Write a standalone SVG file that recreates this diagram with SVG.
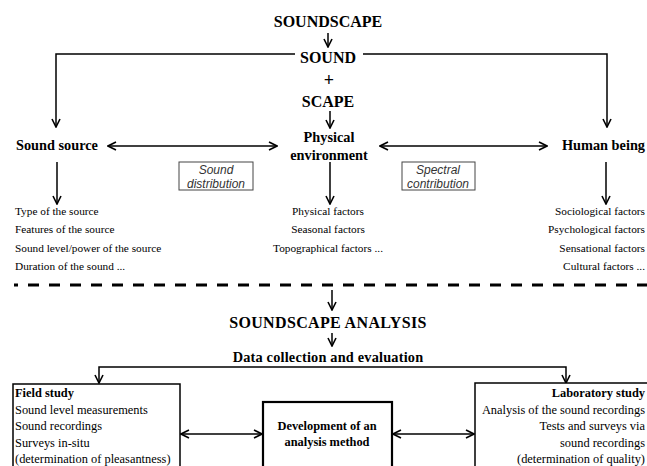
<svg xmlns="http://www.w3.org/2000/svg" width="647" height="466" viewBox="0 0 647 466">
<style>
.t{font-family:'Liberation Serif','DejaVu Serif',serif;fill:#000}
.b{font-weight:bold}
.h{font-size:16px;font-weight:bold}
.n{font-size:14.3px;font-weight:bold}
.s{font-size:11.3px}
.m{font-size:12.4px}
.i{font-family:'Liberation Sans',Arial,sans-serif;font-style:italic;font-size:12px;fill:#333}
.ln{fill:none;stroke:#000;stroke-width:1.5}
.bx{fill:#fff;stroke:#000;stroke-width:1.5}
.bx2{fill:#fff;stroke:#000;stroke-width:2.2}
.lb{fill:#fff;stroke:#444;stroke-width:1}
</style>
<defs>
<marker id="ah" viewBox="0 0 10 10" refX="9" refY="5" markerWidth="10" markerHeight="10" markerUnits="userSpaceOnUse" orient="auto-start-reverse">
<path d="M1,1 L9,5 L1,9" fill="none" stroke="#000" stroke-width="1.6"/>
</marker>
</defs>
<rect width="647" height="466" fill="#fff"/>

<g id="connectors">
<line class="ln" x1="328" y1="33" x2="328" y2="47" marker-end="url(#ah)"/>
<polyline class="ln" points="295,54 56,54 56,127" marker-end="url(#ah)"/>
<polyline class="ln" points="363,54 607,54 607,127" marker-end="url(#ah)"/>
<line class="ln" x1="330" y1="111" x2="330" y2="128" marker-end="url(#ah)"/>
<line class="ln" x1="108" y1="146" x2="277" y2="146" marker-start="url(#ah)" marker-end="url(#ah)"/>
<line class="ln" x1="380" y1="146" x2="547" y2="146" marker-start="url(#ah)" marker-end="url(#ah)"/>
<line class="ln" x1="57" y1="162" x2="57" y2="204" marker-end="url(#ah)"/>
<line class="ln" x1="330" y1="162" x2="330" y2="204" marker-end="url(#ah)"/>
<line class="ln" x1="606" y1="162" x2="606" y2="204" marker-end="url(#ah)"/>
<line x1="14" y1="285" x2="647" y2="285" stroke="#000" stroke-width="3" stroke-dasharray="11,10" stroke-dashoffset="7"/>
<line class="ln" x1="332" y1="290" x2="332" y2="310" marker-end="url(#ah)"/>
<line class="ln" x1="332" y1="333" x2="332" y2="346" marker-end="url(#ah)"/>
<polyline class="ln" points="99,383 99,367 566,367 566,383" marker-start="url(#ah)" marker-end="url(#ah)"/>
<line class="ln" x1="181" y1="434" x2="262" y2="434" marker-start="url(#ah)" marker-end="url(#ah)"/>
<line class="ln" x1="393" y1="434" x2="474" y2="434" marker-start="url(#ah)" marker-end="url(#ah)"/>
</g>

<g id="soundscape"><text class="t h" x="328" y="27" text-anchor="middle">SOUNDSCAPE</text></g>
<g id="sound"><text class="t h" x="328" y="63" text-anchor="middle">SOUND</text></g>
<g id="plus"><text class="t h" x="329" y="86" text-anchor="middle" style="font-size:18px">+</text></g>
<g id="scape"><text class="t h" x="328" y="107" text-anchor="middle">SCAPE</text></g>
<g id="physical">
<text class="t n" x="329" y="142" text-anchor="middle">Physical</text>
<text class="t n" x="329" y="160" text-anchor="middle">environment</text>
</g>
<g id="sound-source"><text class="t n" x="16" y="150">Sound source</text></g>
<g id="human-being"><text class="t n" x="645" y="150" text-anchor="end">Human being</text></g>

<g id="sound-distribution">
<rect class="lb" x="179" y="162" width="74" height="28"/>
<text class="i" x="216" y="174" text-anchor="middle">Sound</text>
<text class="i" x="216" y="188" text-anchor="middle">distribution</text>
</g>
<g id="spectral-contribution">
<rect class="lb" x="402" y="162" width="73" height="28"/>
<text class="i" x="438" y="174" text-anchor="middle">Spectral</text>
<text class="i" x="438" y="188" text-anchor="middle">contribution</text>
</g>

<g id="source-factors">
<text class="t s" x="15" y="215">Type of the source</text>
<text class="t s" x="15" y="233">Features of the source</text>
<text class="t s" x="15" y="252">Sound level/power of the source</text>
<text class="t s" x="15" y="270">Duration of the sound ...</text>
</g>
<g id="physical-factors">
<text class="t s" x="328" y="215" text-anchor="middle">Physical factors</text>
<text class="t s" x="328" y="233" text-anchor="middle">Seasonal factors</text>
<text class="t s" x="328" y="252" text-anchor="middle">Topographical factors ...</text>
</g>
<g id="human-factors">
<text class="t s" x="645" y="215" text-anchor="end">Sociological factors</text>
<text class="t s" x="645" y="233" text-anchor="end">Psychological  factors</text>
<text class="t s" x="645" y="252" text-anchor="end">Sensational factors</text>
<text class="t s" x="645" y="270" text-anchor="end">Cultural factors ...</text>
</g>

<g id="analysis"><text class="t h" x="328" y="328" text-anchor="middle" letter-spacing="0.35">SOUNDSCAPE ANALYSIS</text></g>
<g id="data-collection"><text class="t n" x="328" y="362" text-anchor="middle" letter-spacing="0.2">Data collection and evaluation</text></g>

<g id="field-study">
<rect class="bx" x="13" y="384" width="167" height="90"/>
<text class="t m b" x="15" y="397">Field study</text>
<text class="t m" x="15" y="414">Sound level measurements</text>
<text class="t m" x="15" y="430">Sound recordings</text>
<text class="t m" x="15" y="447">Surveys  in-situ</text>
<text class="t m" x="15" y="463">(determination of pleasantness)</text>
</g>
<g id="development">
<rect class="bx2" x="263" y="402" width="129" height="72"/>
<text class="t m b" x="327" y="430" text-anchor="middle">Development of an</text>
<text class="t m b" x="327" y="446" text-anchor="middle">analysis method</text>
</g>
<g id="laboratory-study">
<rect class="bx" x="475" y="383" width="180" height="90"/>
<text class="t m b" x="645" y="397" text-anchor="end">Laboratory study</text>
<text class="t m" x="645" y="414" text-anchor="end">Analysis  of the sound recordings</text>
<text class="t m" x="645" y="430" text-anchor="end">Tests and surveys via</text>
<text class="t m" x="645" y="447" text-anchor="end">sound recordings</text>
<text class="t m" x="645" y="463" text-anchor="end">(determination of quality)</text>
</g>
</svg>
